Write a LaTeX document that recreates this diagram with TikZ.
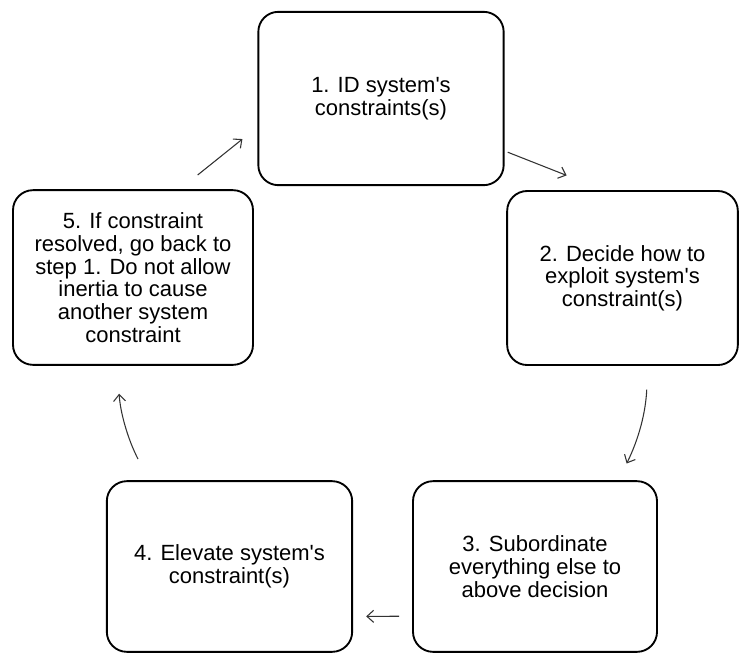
\documentclass[tikz,border=0pt]{standalone}
\usepackage{fontspec}
\setmainfont{Liberation Sans}
\usetikzlibrary{arrows.meta,positioning}

\tikzset{
  stepbox/.style={draw,line width=1.4pt,rounded corners=15pt,align=center,
    inner sep=4pt,font=\fontsize{16.5}{17}\selectfont},
  cycle/.style={line width=0.8pt,draw=black!80,
    -{Straight Barb[length=5pt,width=9pt]}}
}
\newcommand{\apos}{\textquotesingle}

\begin{document}
\begin{tikzpicture}[x=0.75pt,y=-0.75pt]
		\useasboundingbox (0,0) rectangle (739,654);
		\node[stepbox,minimum width=184pt,minimum height=130pt](b1) at (381,98.5) {1. ID system\apos s\\constraints(s)};
		\node[stepbox,minimum width=173pt,minimum height=130.5pt](b2) at (622.5,278) {2. Decide how to\\exploit system\apos s\\constraint(s)};
		\node[stepbox,minimum width=183pt,minimum height=128pt](b3) at (535,566.5) {3. Subordinate\\everything else to\\above decision};
		\node[stepbox,minimum width=184pt,minimum height=128pt](b4) at (229.5,566.5) {4. Elevate system\apos s\\constraint(s)};
		\node[stepbox,minimum width=180pt,minimum height=131pt](b5) at (133,277.5) {5. If constraint\\resolved, go back to\\step 1. Do not allow\\inertia to cause\\another system\\constraint};
		\path
		(b1.-23) edge [cycle,shorten <=2.5pt,shorten >=30pt] (b2.102.6)
		(b2.-74.2) edge [cycle,bend left=12,shorten <=17.8pt,shorten >=14pt] (b3.46.5)
		(b3.202.3) edge [cycle,shorten <=9.8pt,shorten >=9.8pt] (b4.-22.4)
		(b4.133.3) edge [cycle,bend left=12,shorten <=17.9pt,shorten >=21pt] (b5.-100)
		(b5.62) edge [cycle,shorten <=17pt,shorten >=14.4pt] (b1.193);
		\end{tikzpicture}
\end{document}
